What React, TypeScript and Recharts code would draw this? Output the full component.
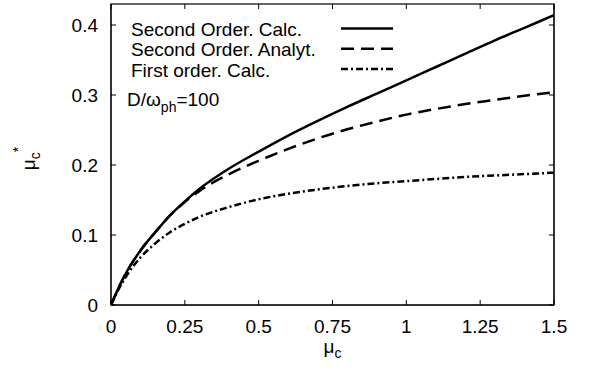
import { LineChart, Line, XAxis, YAxis } from "recharts";

// coupling strength along the x axis
const MU = [0, 0.025, 0.05, 0.1, 0.15, 0.2, 0.25, 0.3, 0.4, 0.5, 0.6, 0.7, 0.8, 0.9, 1.0, 1.1, 1.2, 1.3, 1.4, 1.5];

const SECOND_CALC = [0, 0.024, 0.045, 0.078, 0.104, 0.128, 0.148, 0.166, 0.195, 0.219, 0.242, 0.263, 0.283, 0.302, 0.321, 0.34, 0.359, 0.378, 0.396, 0.414];
const SECOND_ANALYT = [0, 0.024, 0.045, 0.078, 0.104, 0.128, 0.147, 0.163, 0.187, 0.206, 0.223, 0.238, 0.251, 0.262, 0.272, 0.28, 0.287, 0.293, 0.299, 0.304];
const FIRST_CALC = [0, 0.022, 0.04, 0.068, 0.088, 0.104, 0.116, 0.126, 0.14, 0.151, 0.159, 0.165, 0.17, 0.174, 0.177, 0.18, 0.183, 0.185, 0.187, 0.189];

const X_TICKS = [0, 0.25, 0.5, 0.75, 1, 1.25, 1.5];
const Y_TICKS = [0, 0.1, 0.2, 0.3, 0.4];

const FONT = "'Liberation Sans', Arial, Helvetica, sans-serif";
const FS = 19;
const TICK = 5;

const W = 592;
const H = 373;
const TOP = 4;
const LEFT = 111;
const RIGHT = 38;
const X_AXIS_H = 68;
const PLOT_H = H - TOP - X_AXIS_H;

const SERIES = [
  { key: "second", name: "Second Order. Calc.", values: SECOND_CALC, dash: undefined as string | undefined },
  { key: "analyt", name: "Second Order. Analyt.", values: SECOND_ANALYT, dash: "13 7" },
  { key: "first", name: "First order. Calc.", values: FIRST_CALC, dash: "7 3 2 3" },
];

const rows = MU.map((mu, i) => {
  const r: Record<string, number> = { mu };
  SERIES.forEach((s) => (r[s.key] = s.values[i]));
  return r;
});

// gnuplot-style ticks: short marks pointing into the plot, mirrored on the top border
const BottomTick = ({ x, y, payload }: any) => (
  <g>
    <line x1={x} x2={x} y1={y} y2={y - TICK} stroke="#000" />
    <line x1={x} x2={x} y1={y - PLOT_H} y2={y - PLOT_H + TICK} stroke="#000" />
    <text x={x} y={y + 28} textAnchor="middle" fontSize={FS} fill="#000" fontFamily={FONT}>
      {payload.value}
    </text>
  </g>
);
const LeftTick = ({ x, y, payload }: any) => (
  <g>
    <line x1={x} x2={x + TICK} y1={y} y2={y} stroke="#000" />
    <text x={x - 13} y={y + 7} textAnchor="end" fontSize={FS} fill="#000" fontFamily={FONT}>
      {payload.value}
    </text>
  </g>
);
const RightTick = ({ x, y }: any) => <line x1={x} x2={x - TICK} y1={y} y2={y} stroke="#000" />;

const XTitle = ({ viewBox }: any) => (
  <text x={viewBox.x + viewBox.width / 2} y={viewBox.y + 48} textAnchor="middle" fontSize={FS} fontFamily={FONT} fill="#000">
    <tspan>μ</tspan>
    <tspan fontSize={14} dy={5}>c</tspan>
  </text>
);

const YTitle = ({ viewBox }: any) => {
  const cx = viewBox.x + 35;
  const cy = viewBox.y + viewBox.height / 2 + 4;
  return (
    <text x={cx} y={cy} transform={`rotate(-90 ${cx} ${cy})`} textAnchor="middle" fontSize={FS} fontFamily={FONT} fill="#000">
      <tspan>μ</tspan>
      <tspan fontSize={14} dy={5}>c</tspan>
      <tspan fontSize={14} dy={-17}>*</tspan>
    </text>
  );
};

export default function App() {
  return (
    <div style={{ position: "absolute", left: 0, top: 0, width: W, height: H, background: "#fff", fontFamily: FONT }}>
      <LineChart width={W} height={H} data={rows} margin={{ top: TOP, right: 0, bottom: 0, left: 0 }}>
        <XAxis dataKey="mu" type="number" domain={[0, 1.5]} ticks={X_TICKS} interval={0} height={X_AXIS_H}
          tickSize={0} tickMargin={0} tickLine={false} tick={<BottomTick />} stroke="#000" label={<XTitle />} />
        <YAxis type="number" domain={[0, 0.43]} ticks={Y_TICKS} interval={0} width={LEFT}
          tickSize={0} tickMargin={0} tickLine={false} tick={<LeftTick />} stroke="#000" label={<YTitle />} />
        <YAxis yAxisId="right" orientation="right" type="number" domain={[0, 0.43]} ticks={Y_TICKS} interval={0} width={RIGHT}
          tickSize={0} tickMargin={0} tickLine={false} tick={<RightTick />} stroke="#000" />
        {/* invisible copy bound to the right axis so it gets drawn as the frame */}
        <Line yAxisId="right" dataKey="second" stroke="none" dot={false} activeDot={false}
          legendType="none" isAnimationActive={false} />
        {SERIES.map((s) => (
          <Line key={s.key} dataKey={s.key} name={s.name} type="monotone" stroke="#000" strokeWidth={2.5}
            strokeDasharray={s.dash} dot={false} isAnimationActive={false} />
        ))}
      </LineChart>

      {/* frame outline, key and parameter note */}
      <svg width={W} height={H} style={{ position: "absolute", left: 0, top: 0, pointerEvents: "none" }}>
        <rect x={LEFT} y={TOP} width={W - LEFT - RIGHT} height={PLOT_H} fill="none" stroke="#000" strokeWidth={1.2} />
        {SERIES.map((s, i) => (
          <g key={s.key}>
            <text x={131} y={36 + i * 20.3} fontSize={FS} fontFamily={FONT} fill="#000">{s.name}</text>
            <line x1={341} x2={393} y1={28.5 + i * 20.3} y2={28.5 + i * 20.3} stroke="#000" strokeWidth={2.5} strokeDasharray={s.dash} />
          </g>
        ))}
        <text x={127} y={106} fontSize={FS} fontFamily={FONT} fill="#000">
          <tspan>D/ω</tspan>
          <tspan fontSize={14} dy={6}>ph</tspan>
          <tspan dy={-6}>=100</tspan>
        </text>
      </svg>
    </div>
  );
}
